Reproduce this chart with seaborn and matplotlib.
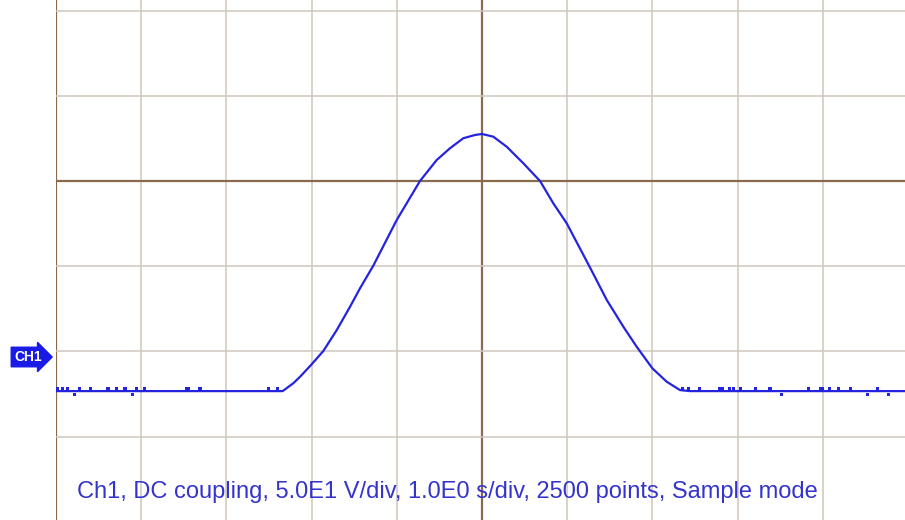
import matplotlib
matplotlib.use("Agg")
import matplotlib.pyplot as plt
import seaborn as sns
import pandas as pd
import numpy as np

# ---- data (seconds, volts) ----
time_s = [-5.0, -2.34, -2.215, -2.136, -2.007, -1.863, -1.705, -1.549, -1.432,
          -1.276, -1.001, -0.728, -0.532, -0.376, -0.219, -0.082, 0.0, 0.133,
          0.290, 0.485, 0.681, 0.837, 0.994, 1.268, 1.464, 1.659, 1.816, 1.999,
          2.168, 2.324, 2.441, 4.97]
volts = [-20.0, -20.0, -15.4, -11.6, -4.7, 3.5, 15.8, 29.5, 40.3,
         53.6, 80.4, 103.3, 115.6, 122.5, 128.4, 130.3, 130.9, 129.3,
         123.4, 113.7, 103.3, 90.2, 78.5, 52.5, 33.5, 17.8, 6.0, -6.6,
         -14.5, -19.4, -20.0, -20.0]

# single-sample glitches on the baseline
glitch_t = [-4.98, -4.92, -4.87, -4.78, -4.72, -4.60, -4.39, -4.29, -4.19, -4.10,
            -4.05, -3.96, -3.47, -3.44, -3.31, -2.51, -2.40,
            2.35, 2.42, 2.55, 2.79, 2.82, 2.91, 2.95, 3.03, 3.21, 3.38, 3.52,
            3.83, 3.97, 4.00, 4.08, 4.18, 4.32, 4.52, 4.64, 4.77]
glitch_v = [1.5, 1.5, 1.5, -2.0, 1.5, 1.5, 1.5, 1.5, 1.5, -2.0,
            1.5, 1.5, 1.5, 1.5, 1.5, 1.5, 1.5,
            1.5, 1.5, 1.5, 1.5, 1.5, 1.5, 1.5, 1.5, 1.5, 1.5, -2.0,
            1.5, 1.5, 1.5, 1.5, 1.5, 1.5, -2.0, 1.5, -2.0]

volts_per_div = 50.0
sec_per_div = 1.0
ground_div = -2.066   # CH1 ground marker position (divisions from centre)
label = "Ch1, DC coupling, 5.0E1 V/div, 1.0E0 s/div, 2500 points, Sample mode"

sns.set_style("white")
plt.rcParams["font.family"] = ["Liberation Sans", "DejaVu Sans"]

W, H = 905, 520
fig = plt.figure(figsize=(W / 100, H / 100), dpi=100)
ax = fig.add_axes([56 / W, 0, (W - 56) / W, 1])
ax.set_xlim(-5, -5 + (W - 56) / 85.2)
ax.set_ylim((181 - 520) / 85.2, 181 / 85.2)

minor_c = "#cfc6bc"
major_c = "#8a6a4c"
for k in range(-5, 6):
    ax.axvline(k, color=major_c if k in (0, -5) else minor_c,
               lw=1.6 if k in (0, -5) else 1.1, zorder=1)
for k in range(-4, 3):
    ax.axhline(k, color=major_c if k == 0 else minor_c,
               lw=1.6 if k == 0 else 1.1, zorder=1)

df = pd.DataFrame({"t": np.array(time_s) / sec_per_div,
                   "pos": np.array(volts) / volts_per_div + ground_div})
sns.lineplot(data=df, x="t", y="pos", ax=ax, color="#2424e0", lw=1.6,
             zorder=3, sort=False)

base = -20.0
gd = pd.DataFrame({"t": np.array(glitch_t) / sec_per_div,
                   "pos": (base + np.array(glitch_v)) / volts_per_div + ground_div})
sns.scatterplot(data=gd, x="t", y="pos", ax=ax, marker="s", s=5,
                color="#2424e0", edgecolor="none", zorder=3)

for s in ax.spines.values():
    s.set_visible(False)
ax.set_xticks([])
ax.set_yticks([])
ax.set_xlabel("")
ax.set_ylabel("")

fig.text(77 / W, 1 - 498 / H, label, color="#3434cc", fontsize=17.0,
         ha="left", va="baseline")

# CH1 ground marker
fig.text(14 / W, 1 - 357 / H, "CH1", color="white", fontsize=10,
         fontweight="bold", ha="left", va="center",
         bbox=dict(boxstyle="rarrow,pad=0.2", fc="#1a1ae6", ec="#1a1ae6"))

fig.savefig("out.png", dpi=100)
